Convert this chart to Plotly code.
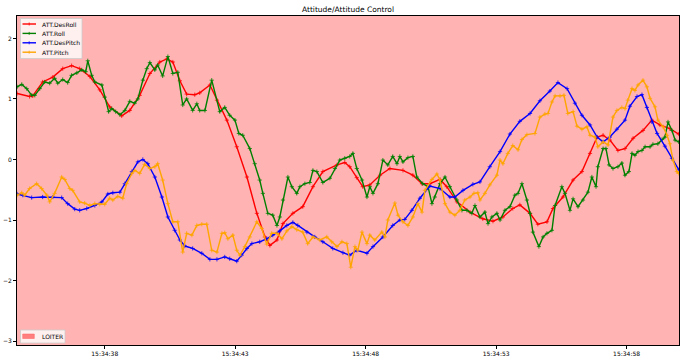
import plotly.graph_objects as go
import pandas as pd

BASE = pd.Timestamp("2024-01-01 15:34:00")

# ---- data (time = seconds after 15:34:00) ----
des_roll_t = [34.64, 35.12, 35.24, 35.62, 36.01, 36.39, 36.73, 37.04, 37.43, 37.81,
              38.19, 38.65, 38.96, 39.34, 39.73, 40.11, 40.38, 40.61, 40.88, 41.14,
              41.45, 41.64, 42.03, 42.30, 42.68, 43.06, 43.45, 43.83, 44.14, 44.33,
              44.60, 44.83, 45.21, 45.59, 45.98, 46.36, 46.90, 47.20, 47.39, 47.66,
              47.89, 48.16, 48.55, 48.93, 49.43, 49.81, 50.16, 50.46, 50.85, 51.11,
              51.50, 52.00, 52.49, 52.88, 53.26, 53.64, 53.91, 54.30, 54.60, 54.95,
              55.18, 55.56, 55.95, 56.29, 56.60, 56.87, 57.10, 57.36, 57.67, 57.94,
              58.25, 58.63, 58.97, 59.28, 59.66, 60.00]
des_roll = [1.09, 1.04, 1.05, 1.28, 1.36, 1.50, 1.55, 1.50, 1.37, 1.15,
            0.87, 0.72, 0.81, 1.06, 1.42, 1.61, 1.66, 1.61, 1.30, 1.08,
            1.07, 1.10, 1.23, 0.98, 0.65, 0.21, -0.29, -0.89, -1.28, -1.42,
            -1.33, -1.06, -0.89, -0.78, -0.45, -0.20, -0.09, -0.05, -0.12, -0.30,
            -0.45, -0.42, -0.26, -0.15, -0.18, -0.26, -0.40, -0.40, -0.33, -0.45,
            -0.70, -0.87, -0.98, -1.02, -0.95, -0.81, -0.75, -0.89, -1.07, -1.03,
            -0.81, -0.62, -0.34, -0.20, 0.10, 0.37, 0.40, 0.32, 0.15, 0.18,
            0.35, 0.48, 0.65, 0.57, 0.51, 0.42]

roll_t = [34.64, 34.82, 35.01, 35.20, 35.32, 35.51, 35.70, 35.89, 36.08, 36.20,
          36.39, 36.58, 36.73, 36.93, 37.12, 37.27, 37.35, 37.50, 37.62, 37.89,
          38.00, 38.15, 38.27, 38.42, 38.58, 38.77, 38.96, 39.15, 39.27, 39.46,
          39.61, 39.73, 39.92, 40.03, 40.22, 40.42, 40.61, 40.80, 40.99, 41.14,
          41.37, 41.53, 41.64, 41.84, 42.10, 42.41, 42.60, 42.79, 42.99, 43.14,
          43.29, 43.56, 43.75, 43.94, 44.06, 44.25, 44.44, 44.60, 44.71, 44.83,
          45.02, 45.17, 45.36, 45.48, 45.67, 45.86, 45.98, 46.13, 46.36, 46.63,
          46.82, 47.01, 47.20, 47.39, 47.51, 47.66, 47.86, 48.05, 48.16, 48.28,
          48.47, 48.66, 48.85, 49.04, 49.20, 49.31, 49.43, 49.62, 49.81, 49.96,
          50.19, 50.39, 50.54, 50.65, 50.85, 51.04, 51.23, 51.50, 51.69, 51.88,
          52.07, 52.19, 52.38, 52.57, 52.69, 52.84, 53.03, 53.15, 53.34, 53.53,
          53.72, 53.84, 53.99, 54.18, 54.30, 54.41, 54.64, 54.80, 54.95, 55.14,
          55.26, 55.52, 55.64, 55.83, 55.95, 56.14, 56.33, 56.52, 56.67, 56.83,
          56.90, 57.10, 57.21, 57.33, 57.48, 57.67, 57.82, 57.94, 58.09, 58.21,
          58.32, 58.44, 58.59, 58.71, 58.90, 59.01, 59.20, 59.36, 59.47, 59.59,
          59.74, 59.86, 60.00]
roll = [1.20, 1.24, 1.17, 1.06, 1.06, 1.17, 1.28, 1.26, 1.34, 1.26,
        1.32, 1.27, 1.39, 1.43, 1.48, 1.45, 1.63, 1.39, 1.28, 1.23,
        1.03, 0.79, 0.84, 0.79, 0.74, 0.81, 0.96, 0.93, 1.00, 1.31,
        1.50, 1.60, 1.48, 1.56, 1.38, 1.70, 1.42, 1.44, 0.90, 1.00,
        0.81, 0.92, 0.81, 0.81, 1.31, 0.79, 0.86, 0.73, 0.65, 0.43,
        0.40, 0.18, -0.07, -0.34, -0.56, -0.89, -0.92, -1.09, -0.95, -0.67,
        -0.29, -0.45, -0.56, -0.45, -0.40, -0.38, -0.18, -0.20, -0.38, -0.31,
        -0.15, -0.01, 0.02, 0.05, 0.10, -0.15, -0.34, -0.62, -0.45, -0.56,
        -0.40, -0.01, -0.09, 0.05, -0.07, 0.05, -0.04, 0.03, 0.05, -0.29,
        -0.40, -0.45, -0.73, -0.62, -0.40, -0.29, -0.45, -0.67, -0.84, -0.84,
        -0.89, -0.76, -0.95, -0.87, -1.06, -0.95, -0.89, -1.00, -0.84, -0.78,
        -0.59, -0.56, -0.40, -0.67, -0.89, -1.20, -1.44, -1.28, -1.22, -1.17,
        -0.76, -0.45, -0.56, -0.84, -0.65, -0.78, -0.67, -0.54, -0.29, -0.45,
        -0.12, 0.18, 0.18, -0.09, -0.15, -0.12, -0.06, -0.26, -0.20, 0.10,
        0.07, 0.13, 0.15, 0.21, 0.21, 0.25, 0.26, 0.33, 0.37, 0.62,
        0.48, 0.32, 0.29]

des_pitch_t = [34.64, 34.86, 35.20, 35.62, 36.01, 36.35, 36.58, 36.85, 37.04, 37.31,
               37.62, 37.89, 38.12, 38.31, 38.58, 38.77, 39.04, 39.27, 39.46, 39.65,
               39.92, 40.19, 40.42, 40.68, 40.88, 41.07, 41.37, 41.72, 42.03, 42.30,
               42.60, 42.79, 43.06, 43.25, 43.45, 43.64, 43.94, 44.21, 44.44, 44.71,
               44.98, 45.21, 45.40, 45.75, 46.05, 46.36, 46.74, 47.13, 47.39, 47.66,
               48.05, 48.28, 48.66, 49.04, 49.31, 49.50, 49.77, 50.08, 50.46, 50.85,
               51.23, 51.42, 51.73, 52.11, 52.38, 52.76, 53.15, 53.53, 53.91, 54.30,
               54.68, 55.06, 55.37, 55.72, 56.02, 56.29, 56.60, 56.87, 57.10, 57.36,
               57.63, 57.94, 58.13, 58.40, 58.59, 58.78, 58.97, 59.17, 59.47, 59.74,
               60.00]
des_pitch = [-0.57, -0.59, -0.63, -0.62, -0.62, -0.63, -0.73, -0.82, -0.84, -0.81,
             -0.76, -0.70, -0.57, -0.55, -0.54, -0.40, -0.20, -0.04, 0.00, -0.07,
             -0.29, -0.62, -0.95, -1.17, -1.33, -1.43, -1.47, -1.55, -1.65, -1.65,
             -1.61, -1.64, -1.68, -1.58, -1.47, -1.39, -1.36, -1.31, -1.25, -1.18,
             -1.09, -1.04, -1.09, -1.20, -1.28, -1.36, -1.47, -1.54, -1.58, -1.50,
             -1.55, -1.44, -1.28, -1.09, -1.00, -0.99, -0.84, -0.64, -0.44, -0.48,
             -0.62, -0.62, -0.51, -0.41, -0.37, -0.12, 0.13, 0.42, 0.63, 0.76,
             0.97, 1.13, 1.27, 1.17, 0.93, 0.73, 0.57, 0.37, 0.29, 0.37,
             0.50, 0.65, 0.88, 1.04, 1.07, 0.86, 0.62, 0.43, 0.22, 0.02,
             -0.17]

pitch_t = [34.64, 34.82, 34.93, 35.12, 35.39, 35.58, 35.78, 35.89, 36.08, 36.35,
           36.47, 36.66, 36.77, 37.04, 37.23, 37.43, 37.62, 37.81, 38.00, 38.19,
           38.31, 38.50, 38.69, 38.84, 39.04, 39.15, 39.34, 39.53, 39.73, 39.92,
           40.03, 40.22, 40.42, 40.61, 40.80, 40.99, 41.14, 41.34, 41.53, 41.72,
           41.91, 42.10, 42.30, 42.49, 42.60, 42.72, 42.91, 43.06, 43.18, 43.37,
           43.56, 43.83, 44.02, 44.21, 44.40, 44.60, 44.79, 44.98, 45.17, 45.36,
           45.59, 45.78, 45.98, 46.24, 46.51, 46.70, 46.90, 47.09, 47.28, 47.43,
           47.59, 47.70, 47.86, 48.05, 48.16, 48.35, 48.62, 48.74, 48.85, 49.12,
           49.24, 49.43, 49.62, 49.81, 50.00, 50.16, 50.27, 50.54, 50.73, 50.85,
           51.04, 51.23, 51.42, 51.61, 51.80, 52.00, 52.15, 52.30, 52.38, 52.57,
           52.76, 53.03, 53.15, 53.26, 53.45, 53.64, 53.84, 53.99, 54.18, 54.49,
           54.68, 54.87, 54.99, 55.14, 55.26, 55.45, 55.60, 55.75, 55.95, 56.10,
           56.29, 56.48, 56.60, 56.79, 56.90, 57.10, 57.29, 57.48, 57.63, 57.82,
           57.94, 58.05, 58.21, 58.32, 58.44, 58.63, 58.78, 58.90, 59.09, 59.20,
           59.40, 59.55, 59.66, 59.78, 59.93, 60.00]
pitch = [-0.59, -0.55, -0.59, -0.48, -0.40, -0.48, -0.59, -0.70, -0.56, -0.29,
         -0.33, -0.48, -0.51, -0.70, -0.72, -0.76, -0.73, -0.74, -0.74, -0.64,
         -0.67, -0.61, -0.64, -0.40, -0.23, -0.18, -0.23, -0.08, -0.15, -0.12,
         -0.07, -0.34, -0.73, -1.03, -1.03, -1.53, -1.22, -1.25, -1.09, -1.07,
         -1.07, -1.50, -1.53, -1.22, -1.21, -1.31, -1.25, -1.50, -1.58, -1.44,
         -1.28, -1.03, -1.14, -1.40, -1.22, -1.22, -1.31, -1.18, -1.11, -1.16,
         -1.20, -1.39, -1.28, -1.33, -1.28, -1.36, -1.44, -1.36, -1.39, -1.78,
         -1.44, -1.50, -1.20, -1.39, -1.25, -1.33, -1.20, -1.28, -1.00, -0.72,
         -0.92, -1.03, -1.09, -0.95, -0.73, -0.87, -0.51, -0.33, -0.24, -0.34,
         -0.73, -0.87, -0.92, -0.84, -0.67, -0.62, -0.56, -0.55, -0.67, -0.56,
         -0.42, -0.26, -0.01, -0.07, 0.10, 0.23, 0.16, 0.33, 0.41, 0.43,
         0.70, 0.75, 0.76, 0.95, 1.05, 1.05, 1.06, 0.76, 0.79, 0.55,
         0.50, 0.54, 0.40, 0.37, 0.21, 0.29, 0.24, 0.70, 0.81, 0.86,
         0.84, 0.98, 1.17, 1.14, 1.23, 1.31, 1.20, 1.01, 0.87, 0.65,
         0.54, 0.40, 0.26, -0.01, -0.20, -0.23]

series_names = ["ATT.DesRoll", "ATT.Roll", "ATT.DesPitch", "ATT.Pitch"]
series_colors = ["red", "green", "blue", "orange"]
series_t = [des_roll_t, roll_t, des_pitch_t, pitch_t]
series_v = [des_roll, roll, des_pitch, pitch]

mode_name = "LOITER"
x_tick_labels = ["15:34:38", "15:34:43", "15:34:48", "15:34:53", "15:34:58"]
y_ticks = [-3, -2, -1, 0, 1, 2]
x_range_s = [34.637, 60.01]
y_range = [-3.065, 2.37]


def to_dt(secs):
    return [(BASE + pd.Timedelta(seconds=s)).strftime("%Y-%m-%d %H:%M:%S.%f") for s in secs]


fig = go.Figure()
for name, col, t, v in zip(series_names, series_colors, series_t, series_v):
    fig.add_trace(go.Scatter(
        x=to_dt(t), y=v, mode="lines+markers", name=name,
        line=dict(color=col, width=1.4),
        marker=dict(symbol="cross-thin", size=3, color=col, line=dict(color=col, width=0.8)),
    ))

W, H = 690, 360
L, R, T, B = 17, 11, 16, 15
PW, PH = W - L - R, H - T - B


def px(x):
    return (x - L) / PW


def py(y):
    return (H - B - y) / PH


shapes = []
annotations = []
# top-left legend
shapes.append(dict(type="rect", xref="paper", yref="paper", x0=px(20.5), x1=px(82), y0=py(58.5), y1=py(18.5),
                   fillcolor="rgba(255,255,255,0.8)", line=dict(color="#cccccc", width=0.8), layer="above"))
for i, (name, col) in enumerate(zip(series_names, series_colors)):
    yc = 24 + i * 9.4
    shapes.append(dict(type="line", xref="paper", yref="paper", x0=px(22.5), x1=px(36), y0=py(yc), y1=py(yc),
                       line=dict(color=col, width=1.4), layer="above"))
    shapes.append(dict(type="line", xref="paper", yref="paper", x0=px(29.2), x1=px(29.2), y0=py(yc - 1.5), y1=py(yc + 1.5),
                       line=dict(color=col, width=0.8), layer="above"))
    annotations.append(dict(xref="paper", yref="paper", x=px(40), y=py(yc), text=name, showarrow=False,
                            xanchor="left", yanchor="middle", font=dict(size=6, color="black")))
# bottom-left mode legend
shapes.append(dict(type="rect", xref="paper", yref="paper", x0=px(20.5), x1=px(65), y0=py(343), y1=py(330),
                   fillcolor="rgba(255,255,255,0.8)", line=dict(color="#cccccc", width=0.8), layer="above"))
shapes.append(dict(type="rect", xref="paper", yref="paper", x0=px(22.7), x1=px(34.3), y0=py(338.5), y1=py(334),
                   fillcolor="#ff7f7f", line=dict(color="#ff6060", width=0.5), layer="above"))
annotations.append(dict(xref="paper", yref="paper", x=px(40), y=py(336.3), text=mode_name, showarrow=False,
                        xanchor="left", yanchor="middle", font=dict(size=6, color="black")))

fig.update_layout(
    width=W, height=H,
    margin=dict(l=L, r=R, t=T, b=B, pad=0, autoexpand=False),
    paper_bgcolor="white", plot_bgcolor="#ffb3b3",
    showlegend=False,
    font=dict(family="DejaVu Sans", size=6, color="black"),
    title=dict(text="Attitude/Attitude Control", x=0.5, xref="paper", xanchor="center",
               y=1 - 9.5 / H, yref="container", yanchor="middle",
               font=dict(size=7.5, color="black", family="DejaVu Sans")),
    shapes=shapes, annotations=annotations,
)
fig.update_xaxes(
    type="date", range=to_dt(x_range_s), automargin=False,
    tickvals=to_dt([float(s.split(":")[2]) + 60 * (int(s.split(":")[1]) - 34) for s in x_tick_labels]),
    ticktext=x_tick_labels,
    ticks="outside", ticklen=3, tickwidth=0.8, tickcolor="black",
    showline=True, linecolor="black", linewidth=1, mirror=True,
    showgrid=False, zeroline=False,
)
fig.update_yaxes(
    range=y_range, tickvals=y_ticks, automargin=False,
    ticks="outside", ticklen=3, tickwidth=0.8, tickcolor="black",
    showline=True, linecolor="black", linewidth=1, mirror=True,
    showgrid=False, zeroline=False,
)

fig.write_html(
    "out.html",
    config={"displayModeBar": False},
    post_script="document.body.style.margin='0';document.body.style.overflow='hidden';",
)
